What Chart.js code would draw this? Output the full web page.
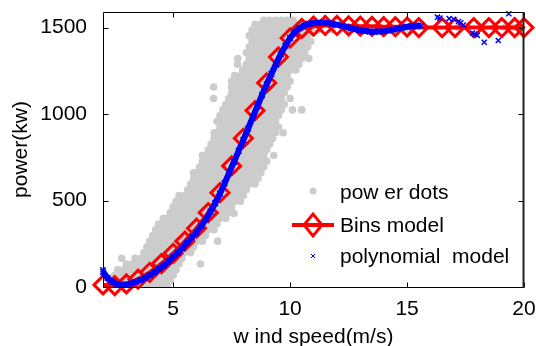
<!DOCTYPE html>
<html><head><meta charset="utf-8">
<script src="https://cdn.jsdelivr.net/npm/chart.js@4"></script>
<style>
html,body{margin:0;padding:0;background:#fff;}
#wrap{position:relative;width:536px;height:346px;overflow:hidden;}
#c{position:absolute;left:0;top:0;}
.lt{position:absolute;left:340px;font-family:"Liberation Sans",Arial,sans-serif;font-size:21px;line-height:24px;color:#000;white-space:pre;}
#sym{position:absolute;left:0;top:0;}
</style></head><body>
<div id="wrap">
<canvas id="c" width="536" height="346"></canvas>
<svg id="sym" width="536" height="346">
  <circle cx="313" cy="191" r="3.5" fill="#cccccc"/>
  <line x1="292" y1="225" x2="334" y2="225" stroke="#ff0000" stroke-width="4"/>
  <polygon points="304,225 313,214 322,225 313,236" fill="none" stroke="#ff0000" stroke-width="3"/>
  <path d="M311,254 L315,258 M315,254 L311,258" stroke="#0000ff" stroke-width="1"/>
</svg>
<div class="lt" style="top:180px">pow er dots</div>
<div class="lt" style="top:213px">Bins model</div>
<div class="lt" style="top:244px">polynomial  model</div>
</div>
<script>
// ---- data ----
const xTicks = [5, 10, 15, 20];
const yTicks = [0, 500, 1000, 1500];

// Bins model (wind speed m/s, power kW)
const binX = [2, 2.5, 3, 3.5, 4, 4.5, 5, 5.5, 6, 6.5, 7, 7.5, 8, 8.5, 9, 9.5, 10, 10.5, 11, 11.5, 12, 12.5, 13, 13.5, 14, 14.5, 15, 15.5, 16.5, 17.05, 17.85, 18.5, 19.05, 19.6, 20];
const binY = [12, 8, 18, 45, 85, 135, 195, 265, 340, 430, 545, 700, 860, 1020, 1180, 1330, 1440, 1495, 1508, 1512, 1512, 1510, 1508, 1507, 1505, 1505, 1503, 1500, 1500, 1500, 1500, 1500, 1500, 1500, 1500];

// Polynomial model curve
const polyX = [2.0, 2.2, 2.4, 2.6, 2.8, 3.0, 3.2, 3.4, 3.6, 3.8, 4.0, 4.2, 4.4, 4.6, 4.8, 5.0, 5.2, 5.4, 5.6, 5.8, 6.0, 6.2, 6.4, 6.6, 6.8, 7.0, 7.2, 7.4, 7.6, 7.8, 8.0, 8.2, 8.4, 8.6, 8.8, 9.0, 9.2, 9.4, 9.6, 9.8, 10.0, 10.2, 10.4, 10.6, 10.8, 11.0, 11.2, 11.4, 11.6, 11.8, 12.0, 12.2, 12.4, 12.6, 12.8, 13.0, 13.2, 13.4, 13.6, 13.8, 14.0, 14.2, 14.4, 14.6, 14.8, 15.0, 15.2, 15.4, 15.6];
const polyY = [88, 52, 30, 18, 13, 14, 20, 29, 40, 53, 68, 85, 104, 125, 148, 172, 198, 226, 256, 288, 315, 352, 392, 436, 485, 540, 600, 662, 724, 787, 850, 915, 980, 1045, 1110, 1172, 1232, 1290, 1345, 1395, 1440, 1474, 1497, 1512, 1521, 1526, 1528, 1528, 1526, 1522, 1517, 1511, 1504, 1497, 1490, 1484, 1480, 1477, 1476, 1477, 1479, 1483, 1488, 1494, 1500, 1505, 1509, 1511, 1510];
// Polynomial model at sparse points
const polyExtraX = [2.0, 2.05, 16.3, 16.4, 16.8, 17.0, 17.2, 17.3, 17.4, 17.8, 17.9, 18.0, 18.3, 18.9, 19.35];
const polyExtraY = [100, 75, 1560, 1555, 1552, 1548, 1535, 1528, 1515, 1468, 1462, 1455, 1415, 1425, 1580];

// Power dots: [power kW, [wind speeds m/s]]
const dotRows = [
  [5, [2.25, 2.5, 2.75, 3.5, 3.75, 4.0, 4.25, 4.5, 4.75]],
  [35, [2.375, 2.625, 2.875, 3.125, 3.375, 3.625, 3.875, 4.125, 4.375, 4.625, 4.875]],
  [68, [2.5, 2.75, 3.0, 3.25, 3.5, 3.75, 4.0, 4.25, 4.5, 4.75, 5.0]],
  [100, [2.625, 2.875, 3.125, 3.375, 3.625, 3.875, 4.125, 4.375, 4.625, 4.875, 5.125]],
  [133, [3.0, 3.25, 3.5, 3.75, 4.0, 4.25, 4.5, 4.75, 5.0, 5.25, 6.17]],
  [166, [2.8, 3.375, 3.625, 3.875, 4.125, 4.375, 4.625, 4.875, 5.125, 5.375]],
  [199, [3.75, 4.0, 4.25, 4.5, 4.75, 5.0, 5.25, 5.5, 5.75]],
  [232, [3.875, 4.125, 4.375, 4.625, 4.875, 5.125, 5.375, 5.625, 5.875]],
  [265, [4.0, 4.25, 4.5, 4.75, 5.0, 5.25, 5.5, 5.75, 6.0, 6.25, 6.9]],
  [298, [4.125, 4.375, 4.625, 4.875, 5.125, 5.375, 5.625, 5.875, 6.125, 6.375]],
  [331, [4.25, 4.5, 4.75, 5.0, 5.25, 5.5, 5.75, 6.0, 6.25, 6.5, 6.75]],
  [364, [4.375, 4.625, 4.875, 5.125, 5.375, 5.625, 5.875, 6.125, 6.375, 6.625, 6.875]],
  [397, [4.58, 4.75, 5.0, 5.25, 5.5, 5.75, 6.0, 6.25, 6.5, 6.75, 7.0, 7.25]],
  [425, [7.6]],
  [430, [4.875, 5.125, 5.375, 5.625, 5.875, 6.125, 6.375, 6.625, 6.875, 7.125, 7.375]],
  [463, [5.0, 5.25, 5.5, 5.75, 6.0, 6.25, 6.5, 6.75, 7.0, 7.25, 7.5]],
  [496, [5.125, 5.375, 5.625, 5.875, 6.125, 6.375, 6.625, 6.875, 7.125, 7.375, 7.625, 7.875]],
  [529, [5.25, 5.5, 5.75, 6.0, 6.25, 6.5, 6.75, 7.0, 7.25, 7.5, 7.75, 8.0]],
  [562, [5.625, 5.875, 6.125, 6.375, 6.625, 6.875, 7.125, 7.375, 7.625, 7.875, 8.125]],
  [595, [5.75, 6.0, 6.25, 6.5, 6.75, 7.0, 7.25, 7.5, 7.75, 8.0, 8.25, 8.5]],
  [628, [5.875, 6.125, 6.375, 6.625, 6.875, 7.125, 7.375, 7.625, 7.875, 8.125, 8.375, 8.625]],
  [661, [5.87, 6.0, 6.25, 6.5, 6.75, 7.0, 7.25, 7.5, 7.75, 8.0, 8.25, 8.5, 8.75]],
  [694, [6.125, 6.375, 6.625, 6.875, 7.125, 7.375, 7.625, 7.875, 8.125, 8.375, 8.625, 8.875]],
  [727, [6.25, 6.5, 6.75, 7.0, 7.25, 7.5, 7.75, 8.0, 8.25, 8.5, 8.75, 9.0]],
  [760, [6.25, 6.375, 6.625, 6.875, 7.125, 7.375, 7.625, 7.875, 8.125, 8.375, 8.625, 8.875, 9.3]],
  [793, [6.5, 6.75, 7.0, 7.25, 7.5, 7.75, 8.0, 8.25, 8.5, 8.75, 9.0]],
  [826, [6.625, 6.875, 7.125, 7.375, 7.625, 7.875, 8.125, 8.375, 8.625, 8.875, 9.125]],
  [859, [6.75, 7.0, 7.25, 7.5, 7.75, 8.0, 8.25, 8.5, 8.75, 9.0, 9.25]],
  [892, [6.75, 6.875, 7.125, 7.375, 7.625, 7.875, 8.125, 8.375, 8.625, 8.875, 9.125, 9.375, 9.7]],
  [925, [7.0, 7.25, 7.5, 7.75, 8.0, 8.25, 8.5, 8.75, 9.0, 9.25, 9.5]],
  [958, [6.875, 7.125, 7.375, 7.625, 7.875, 8.125, 8.375, 8.625, 8.875, 9.125, 9.375]],
  [991, [7.0, 7.25, 7.5, 7.75, 8.0, 8.25, 8.5, 8.75, 9.0, 9.25, 9.5]],
  [1024, [7.125, 7.375, 7.625, 7.875, 8.125, 8.375, 8.625, 8.875, 9.125, 9.375, 9.625, 10.1, 10.5]],
  [1057, [7.25, 7.5, 7.75, 8.0, 8.25, 8.5, 8.75, 9.0, 9.25, 9.5, 9.75]],
  [1090, [6.73, 7.375, 7.625, 7.875, 8.125, 8.375, 8.625, 8.875, 9.125, 9.375, 9.625, 10.0]],
  [1123, [7.5, 7.75, 8.0, 8.25, 8.5, 8.75, 9.0, 9.25, 9.5, 9.75]],
  [1156, [6.73, 7.5, 7.625, 7.875, 8.125, 8.375, 8.625, 8.875, 9.125, 9.375, 9.625, 9.875]],
  [1189, [7.5, 7.75, 8.0, 8.25, 8.5, 8.75, 9.0, 9.25, 9.5, 9.75, 10.0]],
  [1222, [7.625, 7.875, 8.125, 8.375, 8.625, 8.875, 9.125, 9.375, 9.625, 9.875]],
  [1255, [7.97, 8.25, 8.5, 8.75, 9.0, 9.25, 9.5, 9.75, 10.0, 10.25]],
  [1288, [7.75, 8.125, 8.375, 8.625, 8.875, 9.125, 9.375, 9.625, 9.875, 10.125, 10.375]],
  [1321, [7.76, 8.25, 8.5, 8.75, 9.0, 9.25, 9.5, 9.75, 10.0, 10.25, 10.5, 10.8]],
  [1354, [8.125, 8.375, 8.625, 8.875, 9.125, 9.375, 9.625, 9.875, 10.125, 10.375, 10.625]],
  [1387, [8.25, 8.5, 8.75, 9.0, 9.25, 9.5, 9.75, 10.0, 10.25, 10.5, 10.75]],
  [1420, [8.375, 8.625, 8.875, 9.125, 9.375, 9.625, 9.875, 10.125, 10.375, 10.625, 10.875]],
  [1453, [8.25, 8.5, 8.75, 9.0, 9.25, 9.5, 9.75, 10.0, 10.25, 10.5, 10.75]],
  [1486, [8.375, 8.625, 8.875, 9.125, 9.375, 9.625, 9.875, 10.125, 10.375, 10.625, 10.875, 11.2, 11.8, 12.5, 13.4, 14.3, 15.1]],
  [1500, [17.2, 17.6, 18.2, 18.7, 19.2, 19.6]],
  [1519, [8.5, 8.75, 9.0, 9.25, 9.5, 9.75, 10.0, 10.25, 10.5, 10.75]],
  [1542, [8.875, 9.125, 9.375, 9.625, 9.875, 10.125]]
];

// ---- build library structures ----
const zip = (xs, ys) => xs.map((x, i) => ({x: x, y: ys[i]}));
const dots = [];
dotRows.forEach(([p, xs]) => xs.forEach(x => dots.push({x: x, y: p})));

const FONT = {family: '"Liberation Sans", Arial, sans-serif', size: 21};

const boxPlugin = {
  id: 'matlabBox',
  afterDatasetsDraw(chart) {
    const {ctx, chartArea: a, scales: {x, y}} = chart;
    const L = Math.round(a.left) + 0.5, R = Math.round(a.right) - 0.5;
    const T = Math.round(a.top) + 0.5, B = Math.round(a.bottom) + 0.5;
    ctx.save();
    ctx.strokeStyle = '#000';
    ctx.lineWidth = 1;
    ctx.beginPath();
    ctx.moveTo(L, T); ctx.lineTo(R, T);
    ctx.moveTo(L, T); ctx.lineTo(L, B);
    ctx.moveTo(L, B); ctx.lineTo(R, B);
    const tl = 5;
    xTicks.forEach(v => {
      const px = Math.round(x.getPixelForValue(v)) + 0.5;
      ctx.moveTo(px, B); ctx.lineTo(px, B - tl);
      ctx.moveTo(px, T); ctx.lineTo(px, T + tl);
    });
    yTicks.forEach(v => {
      const py = Math.round(y.getPixelForValue(v)) + 0.5;
      ctx.moveTo(L, py); ctx.lineTo(L + tl, py);
      ctx.moveTo(R, py); ctx.lineTo(R - tl, py);
    });
    ctx.stroke();
    ctx.strokeStyle = '#222';
    ctx.lineWidth = 2;
    ctx.beginPath();
    ctx.moveTo(R, T - 0.5); ctx.lineTo(R, B + 0.5);
    ctx.stroke();
    ctx.restore();
  }
};

new Chart(document.getElementById('c'), {
  type: 'scatter',
  data: {
    datasets: [
      {
        label: 'polynomial  model',
        data: zip(polyX, polyY),
        showLine: true,
        borderColor: '#0000ff',
        borderWidth: 6,
        pointStyle: 'crossRot',
        pointRadius: 4,
        pointBorderWidth: 1.5,
        pointBorderColor: '#0000ff',
        pointBackgroundColor: '#0000ff',
        clip: false,
        order: 1
      },
      {
        label: 'polynomial  model (sparse)',
        data: zip(polyExtraX, polyExtraY),
        showLine: false,
        pointStyle: 'crossRot',
        pointRadius: 3.6,
        pointBorderWidth: 1.5,
        pointBorderColor: '#0000ff',
        pointBackgroundColor: '#0000ff',
        clip: false,
        order: 1
      },
      {
        label: 'Bins model',
        data: zip(binX, binY),
        showLine: true,
        borderColor: '#ff0000',
        borderWidth: 4,
        pointStyle: 'rectRot',
        pointRadius: 9,
        pointBorderWidth: 3,
        pointBorderColor: '#ff0000',
        pointBackgroundColor: 'rgba(0,0,0,0)',
        clip: false,
        order: 2
      },
      {
        label: 'pow er dots',
        data: dots,
        pointRadius: 3.8,
        pointBorderWidth: 0,
        pointBackgroundColor: '#cccccc',
        pointBorderColor: '#cccccc',
        order: 3
      }
    ]
  },
  options: {
    responsive: false,
    animation: false,
    devicePixelRatio: 1,
    layout: {padding: {left: 0, right: 11, top: 11, bottom: 0}},
    plugins: {legend: {display: false}, tooltip: {enabled: false}},
    scales: {
      x: {
        type: 'linear', min: 2, max: 20, position: 'bottom',
        afterBuildTicks: s => { s.ticks = xTicks.map(v => ({value: v})); },
        afterFit: s => { s.height = 59; s.paddingLeft = 0; s.paddingRight = 0; },
        ticks: {font: FONT, color: '#000', padding: 2, maxRotation: 0, autoSkip: false, callback: v => String(v)},
        grid: {display: false},
        border: {display: false},
        title: {display: true, text: 'w ind speed(m/s)', color: '#000', font: Object.assign({}, FONT, {lineHeight: 1}), padding: {top: 0, bottom: -2}}
      },
      y: {
        type: 'linear', min: 0, max: 1590,
        afterBuildTicks: s => { s.ticks = yTicks.map(v => ({value: v})); },
        afterFit: s => { s.width = 103; s.paddingTop = 0; s.paddingBottom = 0; },
        ticks: {font: FONT, color: '#000', padding: 8, autoSkip: false, callback: v => String(v)},
        grid: {display: false},
        border: {display: false},
        title: {display: true, text: 'power(kw)', color: '#000', font: Object.assign({}, FONT, {lineHeight: 1}), padding: {top: 11, bottom: 0}}
      }
    }
  },
  plugins: [boxPlugin]
});
</script>
</body></html>
